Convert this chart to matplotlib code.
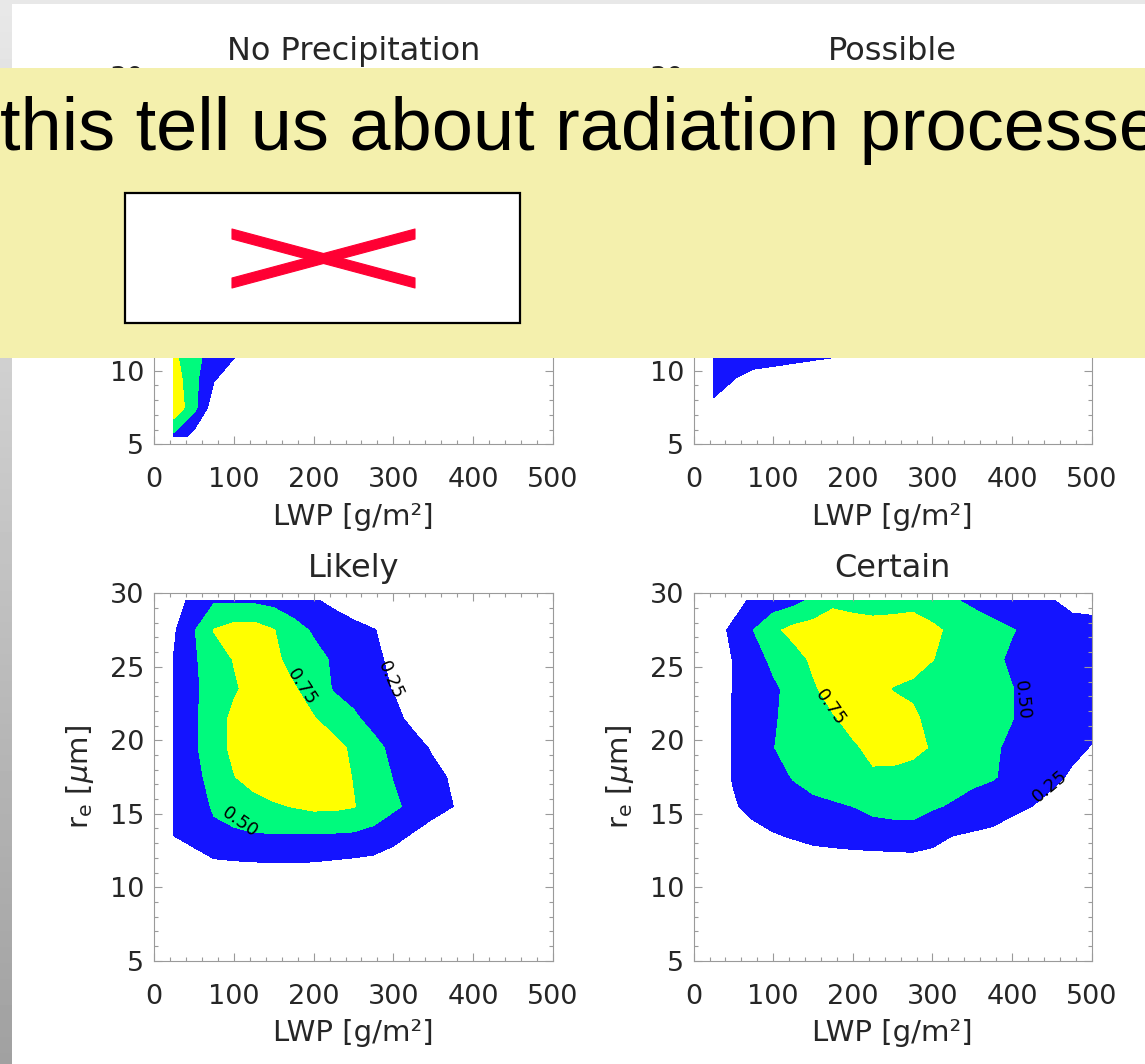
import numpy as np
import matplotlib
matplotlib.use("Agg")
import matplotlib.pyplot as plt
from matplotlib.ticker import MultipleLocator
from matplotlib.patches import Rectangle, Polygon

# LWP bin centres [g/m2] and effective radius bin centres [um]
lwp = [25, 50, 75, 100, 125, 150, 175, 200, 225, 250,
       275, 300, 325, 350, 375, 400, 425, 450, 475, 500]
re = [29.5, 27.5, 25.5, 23.5, 21.5, 19.5, 17.5, 15.5, 13.5, 11.5, 9.5, 7.5, 5.5]

levels = [0.25, 0.50, 0.75, 1.0]
fill_colors = ['#1414ff', '#00fa7d', '#ffff00']

titles = ['No Precipitation', 'Possible', 'Likely', 'Certain']

# probability of each precipitation class, rows follow re (top row = 29.5)
prob_none = [
    [.38, .34, .27, .20, .14, .09, .05, .03, .02, .02, .02, .02, .02, .02, .02, .02, .02, .02, .02, .02],
    [.46, .41, .33, .24, .17, .11, .06, .03, .02, .02, .02, .02, .02, .02, .02, .02, .02, .02, .02, .02],
    [.52, .47, .38, .28, .20, .13, .08, .04, .02, .02, .02, .02, .02, .02, .02, .02, .02, .02, .02, .02],
    [.58, .52, .42, .31, .22, .15, .09, .05, .03, .02, .02, .02, .02, .02, .02, .02, .02, .02, .02, .02],
    [.62, .56, .45, .34, .25, .17, .11, .06, .03, .02, .02, .02, .02, .02, .02, .02, .02, .02, .02, .02],
    [.66, .60, .48, .37, .27, .19, .12, .07, .04, .02, .02, .02, .02, .02, .02, .02, .02, .02, .02, .02],
    [.70, .62, .50, .38, .28, .20, .13, .08, .04, .02, .02, .02, .02, .02, .02, .02, .02, .02, .02, .02],
    [.72, .62, .48, .36, .27, .19, .12, .07, .04, .02, .02, .02, .02, .02, .02, .02, .02, .02, .02, .02],
    [.75, .60, .45, .33, .24, .16, .10, .06, .03, .02, .02, .02, .02, .02, .02, .02, .02, .02, .02, .02],
    [.78, .575, .42, .30, .20, .12, .07, .04, .02, .02, .02, .02, .02, .02, .02, .02, .02, .02, .02, .02],
    [.87, .57, .27, .15, .08, .04, .02, .02, .02, .02, .02, .02, .02, .02, .02, .02, .02, .02, .02, .02],
    [.94, .58, .10, .05, .03, .02, .02, .02, .02, .02, .02, .02, .02, .02, .02, .02, .02, .02, .02, .02],
    [.42, .15, .05, .02, .02, .02, .02, .02, .02, .02, .02, .02, .02, .02, .02, .02, .02, .02, .02, .02],
]

prob_possible = [
    [.20, .27, .33, .38, .40, .40, .38, .35, .32, .28, .25, .21, .18, .14, .11, .08, .05, .04, .03, .02],
    [.24, .33, .40, .46, .49, .49, .46, .42, .38, .34, .30, .26, .22, .18, .14, .10, .07, .05, .03, .02],
    [.28, .38, .47, .54, .58, .58, .55, .50, .45, .40, .35, .30, .26, .21, .17, .13, .09, .06, .04, .03],
    [.32, .43, .53, .62, .67, .67, .63, .57, .51, .45, .40, .35, .30, .25, .20, .15, .11, .08, .05, .03],
    [.35, .47, .58, .68, .74, .74, .69, .62, .55, .49, .44, .39, .34, .29, .23, .18, .13, .09, .06, .04],
    [.38, .50, .62, .72, .78, .76, .70, .63, .56, .50, .45, .40, .35, .30, .24, .19, .14, .10, .06, .04],
    [.40, .52, .64, .72, .74, .70, .64, .58, .52, .47, .42, .38, .33, .28, .23, .18, .13, .09, .06, .04],
    [.42, .52, .62, .66, .64, .60, .55, .50, .46, .42, .38, .34, .30, .26, .21, .16, .12, .08, .05, .03],
    [.45, .50, .55, .55, .52, .48, .44, .40, .36, .33, .30, .27, .24, .20, .16, .12, .09, .06, .04, .03],
    [.45, .35, .48, .445, .40, .35, .32, .30, .27, .25, .22, .20, .17, .14, .11, .08, .06, .04, .03, .02],
    [.35, .26, .15, .12, .10, .10, .09, .08, .07, .06, .05, .04, .03, .03, .02, .02, .02, .02, .02, .02],
    [.20, .12, .08, .06, .05, .05, .04, .04, .04, .03, .03, .02, .02, .02, .02, .02, .02, .02, .02, .02],
    [.10, .06, .04, .03, .02, .02, .02, .02, .02, .02, .02, .02, .02, .02, .02, .02, .02, .02, .02, .02],
]

prob_likely = [
    [.03, .40, .47, .47, .46, .42, .36, .28, .19, .10, .06, .03, .02, .02, .02, .02, .02, .02, .02, .02],
    [.22, .48, .76, .85, .86, .76, .59, .47, .40, .33, .26, .18, .10, .05, .02, .02, .02, .02, .02, .02],
    [.26, .47, .62, .76, .85, .80, .67, .58, .47, .39, .30, .20, .12, .06, .02, .02, .02, .02, .02, .02],
    [.28, .45, .62, .72, .83, .86, .77, .66, .48, .41, .32, .24, .15, .08, .04, .02, .02, .02, .02, .02],
    [.30, .46, .64, .80, .87, .90, .85, .76, .66, .54, .42, .31, .19, .10, .05, .02, .02, .02, .02, .02],
    [.32, .46, .65, .80, .88, .92, .92, .88, .82, .71, .57, .44, .33, .22, .11, .05, .02, .02, .02, .02],
    [.32, .44, .57, .74, .84, .90, .92, .90, .84, .74, .62, .49, .40, .31, .22, .12, .06, .02, .02, .02],
    [.30, .41, .52, .57, .66, .72, .76, .80, .80, .76, .65, .54, .44, .34, .25, .15, .07, .02, .02, .02],
    [.25, .38, .46, .47, .48, .48, .48, .48, .47, .46, .42, .33, .22, .12, .06, .02, .02, .02, .02, .02],
    [.05, .05, .19, .21, .22, .23, .23, .22, .20, .18, .16, .10, .05, .02, .02, .02, .02, .02, .02, .02],
    [.02, .03, .08, .10, .10, .10, .10, .10, .10, .10, .07, .04, .02, .02, .02, .02, .02, .02, .02, .02],
    [.02, .02, .04, .05, .05, .05, .05, .05, .05, .04, .03, .02, .02, .02, .02, .02, .02, .02, .02, .02],
    [.02, .02, .02, .02, .02, .02, .02, .02, .02, .02, .02, .02, .02, .02, .02, .02, .02, .02, .02, .02],
]

prob_certain = [
    [.05, .15, .30, .36, .42, .55, .70, .66, .64, .65, .68, .60, .53, .45, .38, .33, .29, .26, .20, .20],
    [.15, .30, .50, .70, .82, .86, .88, .87, .85, .86, .86, .80, .70, .65, .58, .51, .45, .38, .32, .30],
    [.10, .26, .40, .55, .65, .79, .86, .88, .88, .87, .84, .755, .68, .61, .54, .47, .43, .40, .37, .35],
    [.10, .26, .36, .46, .57, .72, .84, .88, .85, .74, .70, .64, .60, .57, .54, .505, .45, .41, .38, .36],
    [.10, .27, .36, .48, .56, .64, .73, .82, .86, .85, .80, .66, .60, .57, .54, .505, .44, .39, .35, .32],
    [.10, .27, .38, .495, .56, .62, .67, .72, .80, .83, .81, .73, .64, .58, .53, .46, .41, .36, .30, .24],
    [.10, .27, .37, .43, .51, .57, .62, .67, .72, .70, .66, .62, .58, .55, .52, .44, .37, .30, .22, .15],
    [.08, .22, .33, .38, .42, .45, .47, .50, .55, .56, .55, .52, .48, .42, .36, .30, .25, .18, .12, .08],
    [.03, .08, .16, .23, .27, .32, .35, .38, .40, .42, .44, .35, .25, .22, .20, .15, .10, .07, .04, .03],
    [.02, .03, .05, .07, .09, .10, .10, .10, .10, .10, .10, .10, .08, .06, .05, .03, .03, .03, .03, .03],
    [.02, .02, .03, .03, .04, .04, .04, .04, .04, .04, .04, .04, .03, .03, .03, .02, .02, .02, .02, .02],
    [.02, .02, .02, .02, .02, .02, .02, .02, .02, .02, .02, .02, .02, .02, .02, .02, .02, .02, .02, .02],
    [.02, .02, .02, .02, .02, .02, .02, .02, .02, .02, .02, .02, .02, .02, .02, .02, .02, .02, .02, .02],
]

# contour labels: (level, lwp, re, angle)
labels_none = []
labels_possible = []
labels_likely = [(0.75, 186, 23.6, -57), (0.25, 296, 24.1, -66), (0.50, 108, 14.4, -35)]
labels_certain = [(0.75, 172, 22.2, -55), (0.50, 412, 22.7, -84), (0.25, 448, 16.9, 40)]

fields = [prob_none, prob_possible, prob_likely, prob_certain]
contour_labels = [labels_none, labels_possible, labels_likely, labels_certain]

W, H = 1145, 1064
fig = plt.figure(figsize=(W / 100, H / 100), dpi=100, facecolor='white')

# panel boxes in pixels: left, top, right, bottom
boxes = [(154, 76.4, 553, 444.3), (693.6, 76.4, 1091.7, 444.3),
         (154, 593.4, 553, 960.7), (693.6, 593.4, 1091.7, 960.7)]

text_col = '#262626'
axis_col = '#9a9a9a'

for i in range(4):
    l, t, r, b = boxes[i]
    ax = fig.add_axes([l / W, 1 - b / H, (r - l) / W, (b - t) / H])
    z = np.array(fields[i])
    ax.contourf(lwp, re, z, levels=levels, colors=fill_colors)
    for lvl, x, y, ang in contour_labels[i]:
        ax.text(x, y, '%.2f' % lvl, rotation=ang, rotation_mode='anchor',
                ha='center', va='center', fontsize=13, color='black')
    ax.set_xlim(0, 500)
    ax.set_ylim(5, 30)
    ax.xaxis.set_major_locator(MultipleLocator(100))
    ax.xaxis.set_minor_locator(MultipleLocator(20))
    ax.yaxis.set_major_locator(MultipleLocator(5))
    ax.yaxis.set_minor_locator(MultipleLocator(1))
    ax.tick_params(which='both', direction='in', top=True, right=True,
                   color=axis_col, width=0.8, labelcolor=text_col, labelsize=19.5)
    ax.tick_params(which='major', length=6)
    ax.tick_params(which='minor', length=3)
    ax.tick_params(axis='x', pad=16.5)
    ax.tick_params(axis='y', pad=7)
    for s in ax.spines.values():
        s.set_color(axis_col)
        s.set_linewidth(0.8)
    ax.set_title(titles[i], fontsize=23, color=text_col, pad=12)
    ax.set_xlabel('LWP [g/m²]', fontsize=21, color=text_col, labelpad=7)
    ax.set_ylabel(r'r$_{\rm e}$ [$\mu$m]', fontsize=21, color=text_col, labelpad=10)

# slide elements drawn on top, in pixel coordinates
over = fig.add_axes([0, 0, 1, 1], zorder=10)
over.set_xlim(0, W)
over.set_ylim(H, 0)
over.axis('off')
over.patch.set_alpha(0)

strip = np.linspace(0.91, 0.63, 200).reshape(-1, 1)
over.imshow(strip, extent=(0, 11.5, H, 0), cmap='gray', vmin=0, vmax=1,
            aspect='auto', zorder=1)
over.add_patch(Rectangle((0, 0), W, 4, facecolor='#e8e8e8', edgecolor='none', zorder=2))

over.add_patch(Rectangle((0, 68), W, 290, facecolor='#f4f0ad', edgecolor='none', zorder=3))
over.text(0, 150, 'this tell us about radiation processe', fontsize=53.3,
          family='Liberation Sans', color='black', ha='left', va='baseline', zorder=4)

over.add_patch(Rectangle((125, 193), 395, 130, facecolor='white', edgecolor='black',
                         linewidth=1.6, zorder=4))
red = '#ff0033'
over.add_patch(Polygon([(232, 229), (415, 278), (415, 288), (232, 239)], closed=True,
                       facecolor=red, edgecolor=red, linewidth=0.8, joinstyle='round', zorder=5))
over.add_patch(Polygon([(232, 278), (415, 229), (415, 239), (232, 288)], closed=True,
                       facecolor=red, edgecolor=red, linewidth=0.8, joinstyle='round', zorder=5))

fig.savefig('out.png', dpi=100, facecolor='white')
